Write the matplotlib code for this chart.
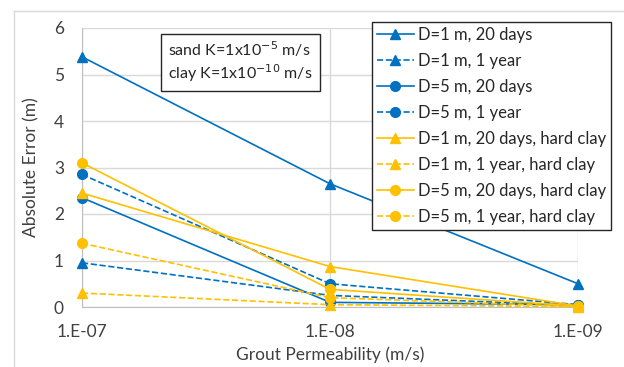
import matplotlib
matplotlib.use("Agg")
import matplotlib.pyplot as plt
from matplotlib.lines import Line2D

plt.rcParams["font.family"] = ["Lato", "DejaVu Sans"]

# ---------------------------------------------------------------------------
# Data
# ---------------------------------------------------------------------------
x_labels = ["1.E-07", "1.E-08", "1.E-09"]

d1_20d = [5.38, 2.65, 0.50]
d1_1y = [0.95, 0.25, 0.03]
d5_20d = [2.35, 0.10, 0.05]
d5_1y = [2.85, 0.50, 0.05]
d1_20d_hc = [2.45, 0.87, 0.02]
d1_1y_hc = [0.30, 0.05, 0.01]
d5_20d_hc = [3.10, 0.38, 0.02]
d5_1y_hc = [1.37, 0.20, 0.01]

series_names = [
    "D=1 m, 20 days",
    "D=1 m, 1 year",
    "D=5 m, 20 days",
    "D=5 m, 1 year",
    "D=1 m, 20 days, hard clay",
    "D=1 m, 1 year, hard clay",
    "D=5 m, 20 days, hard clay",
    "D=5 m, 1 year, hard clay",
]
series_values = [d1_20d, d1_1y, d5_20d, d5_1y, d1_20d_hc, d1_1y_hc, d5_20d_hc, d5_1y_hc]

BLUE = "#0070C0"
GOLD = "#FFC000"
styles = [
    (BLUE, "-", "^"),
    (BLUE, "--", "^"),
    (BLUE, "-", "o"),
    (BLUE, "--", "o"),
    (GOLD, "-", "^"),
    (GOLD, "--", "^"),
    (GOLD, "-", "o"),
    (GOLD, "--", "o"),
]

# ---------------------------------------------------------------------------
# Figure
# ---------------------------------------------------------------------------
fig = plt.figure(figsize=(6.24, 3.67), dpi=100)

# chart-area border (only left and top edges are visible in the crop)
bx, by = 13.5 / 624, 1 - 10.5 / 367
fig.add_artist(Line2D([bx, bx], [0, by], transform=fig.transFigure,
                      color="#d9d9d9", lw=1.0))
fig.add_artist(Line2D([bx, 1], [by, by], transform=fig.transFigure,
                      color="#d9d9d9", lw=1.0))

ax = fig.add_axes([82 / 624, 1 - 307 / 367, (578 - 82) / 624, (307 - 28) / 367])

xs = list(range(len(x_labels)))
for name, vals, (col, ls, mk) in zip(series_names, series_values, styles):
    ax.plot(xs, vals, color=col, ls=ls, lw=1.2, marker=mk, ms=7,
            label=name, clip_on=False, zorder=3)

ax.set_xlim(0, 2)
ax.set_ylim(0, 6)
ax.set_xticks(xs)
ax.set_xticklabels(x_labels)
ax.set_yticks(range(0, 7))
ax.grid(True, color="#d9d9d9", lw=1.0)
ax.set_axisbelow(True)
for s in ["top", "right"]:
    ax.spines[s].set_visible(False)
for s in ["left", "bottom"]:
    ax.spines[s].set_color("#bfbfbf")
ax.tick_params(length=0, labelsize=12.5, colors="#404040")
ax.tick_params(axis="x", pad=12)
ax.tick_params(axis="y", pad=13)
ax.set_xlabel("Grout Permeability (m/s)", fontsize=12.5, color="#404040", labelpad=5)
ax.set_ylabel("Absolute Error (m)", fontsize=12.5, color="#404040", labelpad=10)

ax.text(0.173, 0.88, "sand K=1x10$^{-5}$ m/s\nclay K=1x10$^{-10}$ m/s",
        transform=ax.transAxes, fontsize=11.5, color="#262626", va="center",
        ha="left", linespacing=1.2,
        bbox=dict(boxstyle="square,pad=0.45", fc="white", ec="#262626", lw=1.0))

leg = ax.legend(loc="upper right", bbox_to_anchor=(1.067, 1.022), fontsize=12,
                frameon=True, fancybox=False, edgecolor="#262626",
                handlelength=2.2, handletextpad=0.25, borderpad=0.3,
                borderaxespad=0.0, labelspacing=0.6, framealpha=1)
leg.get_frame().set_linewidth(1.0)
for t in leg.get_texts():
    t.set_color("#262626")

fig.savefig("out.png", dpi=100)
